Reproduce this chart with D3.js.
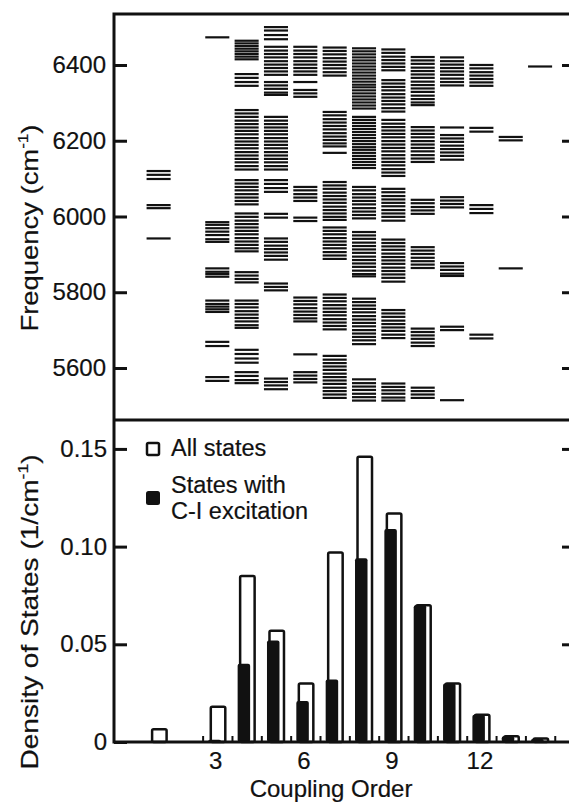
<!DOCTYPE html>
<html>
<head>
<meta charset="utf-8">
<script src="https://cdn.jsdelivr.net/npm/d3@7"></script>
<style>
body { margin: 0; background: #fff; }
text { font-family: "Liberation Sans", Arial, Helvetica, sans-serif; fill: #111; stroke: #111; stroke-width: 0.2px; }
.axis path { display: none; }
.axis line { stroke: #111; stroke-width: 3; }
.minor line { stroke-width: 2; }
</style>
</head>
<body>
<svg id="chart" width="569" height="804"></svg>
<script>

// energy levels (cm-1) for each coupling order
const levels1 = [6120, 6110, 6099, 6030, 6022, 5942];
const levels3 = [6473, 5985, 5978, 5969, 5960, 5951, 5940, 5933, 5863, 5854, 5848, 5841,
  5778, 5769, 5762, 5755, 5748, 5669, 5658, 5576, 5566];
const levels4 = [6464, 6457, 6450, 6443, 6436, 6429, 6422, 6415, 6376, 6366, 6355, 6345,
  6281, 6272, 6263, 6253, 6244, 6235, 6226, 6217, 6207, 6198, 6189, 6180, 6170, 6161, 6152, 6143, 6133, 6124,
  6096, 6087, 6078, 6069, 6059, 6050, 6041, 6032,
  6008, 5999, 5989, 5980, 5971, 5962, 5953, 5943, 5934, 5925, 5916, 5908,
  5853, 5844, 5835, 5826, 5778, 5769, 5760, 5750, 5741, 5732, 5723, 5713, 5706,
  5648, 5637, 5625, 5614, 5589, 5579, 5568, 5560];
const levels5 = [6500, 6491, 6479, 6468, 6448, 6438, 6429, 6420, 6410, 6401, 6392, 6383, 6374,
  6355, 6346, 6337, 6327, 6321,
  6263, 6253, 6244, 6235, 6226, 6217, 6207, 6198, 6189, 6180, 6170, 6161, 6152, 6143, 6133, 6124,
  6096, 6086, 6075, 6065, 6007, 5997,
  5942, 5933, 5923, 5914, 5905, 5896, 5886, 5823, 5814, 5805, 5572, 5563, 5554, 5544];
const levels6 = [6448, 6438, 6429, 6420, 6410, 6401, 6392, 6383, 6374, 6355, 6334, 6325, 6316,
  6078, 6069, 6059, 6050, 6041, 5997, 5988,
  5786, 5777, 5768, 5758, 5749, 5740, 5731, 5723, 5636, 5589, 5580, 5571, 5562];
const levels7 = [6446, 6437, 6428, 6418, 6409, 6400, 6391, 6381, 6372,
  6276, 6267, 6257, 6248, 6239, 6230, 6220, 6211, 6202, 6193, 6185, 6168,
  6091, 6082, 6073, 6063, 6054, 6045, 6036, 6026, 6017, 6008, 5999, 5991,
  5971, 5962, 5953, 5943, 5934, 5925, 5916, 5906, 5897, 5888,
  5794, 5785, 5776, 5766, 5757, 5748, 5739, 5729, 5720, 5711, 5702,
  5632, 5622, 5613, 5604, 5595, 5585, 5576, 5567, 5558, 5548, 5539, 5530, 5521];
const levels8 = [6444, 6436, 6428, 6420, 6412, 6404, 6396, 6388, 6380, 6372, 6364, 6356, 6348,
  6341, 6333, 6325, 6317, 6309, 6301, 6293, 6285,
  6263, 6255, 6247, 6239, 6231, 6223, 6215, 6207, 6199, 6191, 6183, 6176, 6168, 6160, 6152, 6144, 6136, 6128,
  6078, 6069, 6059, 6050, 6041, 6032, 6022, 6013, 6004, 5995,
  5959, 5950, 5941, 5931, 5922, 5913, 5904, 5894, 5885, 5876, 5867, 5857, 5848, 5842,
  5783, 5774, 5765, 5756, 5747, 5737, 5728, 5719, 5710, 5700, 5691, 5682, 5673, 5663,
  5570, 5560, 5551, 5542, 5532, 5523, 5514];
const levels9 = [6441, 6432, 6422, 6413, 6404, 6395, 6386,
  6360, 6351, 6342, 6333, 6323, 6314, 6305, 6296, 6286, 6277,
  6255, 6245, 6236, 6227, 6218, 6209, 6199, 6190, 6181, 6172, 6162, 6153, 6144, 6135, 6125, 6116, 6107,
  6073, 6064, 6054, 6045, 6036, 6027, 6017, 6008, 5999, 5989,
  5939, 5930, 5921, 5912, 5902, 5893, 5884, 5875, 5865, 5856, 5847, 5838, 5828,
  5753, 5744, 5735, 5725, 5716, 5707, 5698, 5688, 5679,
  5559, 5550, 5541, 5532, 5522, 5514];
const levels10 = [6421, 6412, 6403, 6393, 6384, 6375, 6366, 6356, 6347, 6338, 6329, 6319, 6310, 6301, 6294,
  6236, 6227, 6218, 6209, 6199, 6190, 6181, 6172, 6162, 6153, 6144,
  6044, 6035, 6025, 6016, 6007,
  5919, 5910, 5901, 5891, 5882, 5873, 5864,
  5704, 5695, 5686, 5677, 5667, 5658, 5548, 5539, 5530, 5521];
const levels11 = [6420, 6410, 6401, 6392, 6383, 6374, 6364, 6355, 6346,
  6235, 6215, 6206, 6197, 6187, 6178, 6169, 6160, 6150,
  6051, 6042, 6033, 6024, 5877, 5868, 5859, 5849, 5843, 5709, 5700, 5515];
const levels12 = [6400, 6391, 6381, 6372, 6363, 6354, 6345, 6234, 6224, 6030, 6020, 6009, 5688, 5678];
const levels13 = [6210, 6201, 5863];
const levels14 = [6396];

// density of states (1/cm-1), bottom panel
const barOrders = [1, 3, 4, 5, 6, 7, 8, 9, 10, 11, 12, 13, 14];
const allStates = [0.0065, 0.018, 0.085, 0.057, 0.030, 0.097, 0.146, 0.117, 0.070, 0.030, 0.014, 0.003, 0.0018];
const ciStates  = [0, 0.0012, 0.040, 0.052, 0.021, 0.032, 0.094, 0.109, 0.070, 0.030, 0.014, 0.003, 0.0015];

const freqTicks = [5600, 5800, 6000, 6200, 6400];
const dosTicks = [0.05, 0.10, 0.15];
const orderTicks = [3, 6, 9, 12];
const binEdges = [2.5, 3.5, 4.5, 5.5, 6.5, 7.5, 8.5, 9.5, 10.5, 11.5, 12.5, 13.5, 14.5];

const sticks = [
  {order: 1, f: levels1}, {order: 3, f: levels3}, {order: 4, f: levels4}, {order: 5, f: levels5},
  {order: 6, f: levels6}, {order: 7, f: levels7}, {order: 8, f: levels8}, {order: 9, f: levels9},
  {order: 10, f: levels10}, {order: 11, f: levels11}, {order: 12, f: levels12},
  {order: 13, f: levels13}, {order: 14, f: levels14}
];
const bars = barOrders.map((o, i) => ({order: o, all: allStates[i], ci: ciStates[i]}));

const xLeft = 114, xRight = 575, yTop = 14, yMid = 420, yBottom = 742;

const svg = d3.select("#chart");

const x = d3.scaleLinear().domain([-0.52, 15.19]).range([xLeft, xRight]);
const yF = d3.scaleLinear().domain([5462.7, 6534.6]).range([yMid, yTop]);
const yD = d3.scaleLinear().domain([0, 0.1648]).range([yBottom, yMid]);

// top panel: stick levels
const halfW = 0.41;
svg.append("g").selectAll("g")
  .data(sticks)
  .enter().append("g")
  .selectAll("line")
  .data(d => d.f.map(f => ({order: d.order, f: f})))
  .enter().append("line")
    .attr("x1", d => x(d.order - halfW))
    .attr("x2", d => x(d.order + halfW))
    .attr("y1", d => yF(d.f))
    .attr("y2", d => yF(d.f))
    .attr("stroke", "#111")
    .attr("stroke-width", 2.2);

// bottom panel: open bars (all states), then filled bars (C-I excitation)
svg.append("g").selectAll("rect")
  .data(bars)
  .enter().append("rect")
    .attr("x", d => x(d.order) - 6.5)
    .attr("width", 14.5)
    .attr("y", d => yD(d.all))
    .attr("height", d => yBottom - yD(d.all))
    .attr("rx", 1.5)
    .attr("fill", "#fff")
    .attr("stroke", "#111")
    .attr("stroke-width", 2.5);

svg.append("g").selectAll("rect")
  .data(bars.filter(d => d.ci > 0))
  .enter().append("rect")
    .attr("x", d => x(d.order) - 9)
    .attr("width", 12.5)
    .attr("y", d => yD(d.ci))
    .attr("height", d => yBottom - yD(d.ci))
    .attr("rx", 2)
    .attr("fill", "#111");

// axes
svg.append("g").attr("class", "axis")
  .attr("transform", `translate(${xLeft},0)`)
  .call(d3.axisLeft(yF).tickValues(freqTicks).tickSize(-13).tickPadding(8).tickFormat(d3.format("d")))
  .selectAll("text").style("font-size", "24px").style("font-family", "Liberation Sans, Arial, sans-serif");
svg.append("g").attr("class", "axis")
  .attr("transform", `translate(${xRight},0)`)
  .call(d3.axisRight(yF).tickValues(freqTicks).tickSize(-13).tickFormat(""));

svg.append("g").attr("class", "axis")
  .attr("transform", `translate(${xLeft},0)`)
  .call(d3.axisLeft(yD).tickValues([0].concat(dosTicks)).tickSize(-13).tickPadding(7)
    .tickFormat(d => d === 0 ? "0" : d3.format(".2f")(d)))
  .selectAll("text").style("font-size", "24px").style("font-family", "Liberation Sans, Arial, sans-serif");
svg.append("g").attr("class", "axis")
  .attr("transform", `translate(${xRight},0)`)
  .call(d3.axisRight(yD).tickValues(dosTicks).tickSize(-13).tickFormat(""));

svg.append("g").attr("class", "axis")
  .attr("transform", `translate(0,${yBottom})`)
  .call(d3.axisBottom(x).tickValues(orderTicks).tickSize(0).tickPadding(10))
  .selectAll("text").style("font-size", "24px").style("font-family", "Liberation Sans, Arial, sans-serif")
  .attr("dx", "-2");
svg.append("g").attr("class", "axis minor")
  .attr("transform", `translate(0,${yBottom})`)
  .call(d3.axisBottom(x).tickValues(binEdges).tickSize(-6).tickFormat(""));

// frame
const frame = svg.append("g").attr("stroke", "#111").attr("stroke-width", 3).attr("fill", "none");
frame.append("rect").attr("x", xLeft).attr("y", yTop).attr("width", xRight - xLeft).attr("height", yBottom - yTop);
frame.append("line").attr("x1", xLeft).attr("x2", xRight).attr("y1", yMid).attr("y2", yMid);

// axis titles
svg.append("text")
  .attr("x", 331).attr("y", 797)
  .attr("text-anchor", "middle")
  .style("font-size", "24px")
  .text("Coupling Order");

const t1 = svg.append("text")
  .attr("transform", "translate(38,228) rotate(-90)")
  .attr("text-anchor", "middle")
  .attr("textLength", 207)
  .attr("lengthAdjust", "spacingAndGlyphs")
  .style("font-size", "24px");
t1.append("tspan").text("Frequency (cm");
t1.append("tspan").attr("dy", -10).style("font-size", "15px").text("-1");
t1.append("tspan").attr("dy", 10).text(")");

const t2 = svg.append("text")
  .attr("transform", "translate(38,612) rotate(-90)")
  .attr("text-anchor", "middle")
  .attr("textLength", 315)
  .attr("lengthAdjust", "spacingAndGlyphs")
  .style("font-size", "24px");
t2.append("tspan").text("Density of States (1/cm");
t2.append("tspan").attr("dy", -10).style("font-size", "15px").text("-1");
t2.append("tspan").attr("dy", 10).text(")");

// legend
const legend = svg.append("g");
legend.append("rect").attr("x", 147).attr("y", 443).attr("width", 12).attr("height", 12)
  .attr("fill", "#fff").attr("stroke", "#111").attr("stroke-width", 2.5).attr("rx", 1.5);
legend.append("text").attr("x", 171).attr("y", 456).style("font-size", "23.5px").text("All states");
legend.append("rect").attr("x", 146).attr("y", 491).attr("width", 14).attr("height", 14)
  .attr("fill", "#111").attr("rx", 2.5);
legend.append("text").attr("x", 171).attr("y", 493).style("font-size", "23.5px").text("States with");
legend.append("text").attr("x", 171).attr("y", 519).style("font-size", "23.5px").text("C-I excitation");

</script>
</body>
</html>
